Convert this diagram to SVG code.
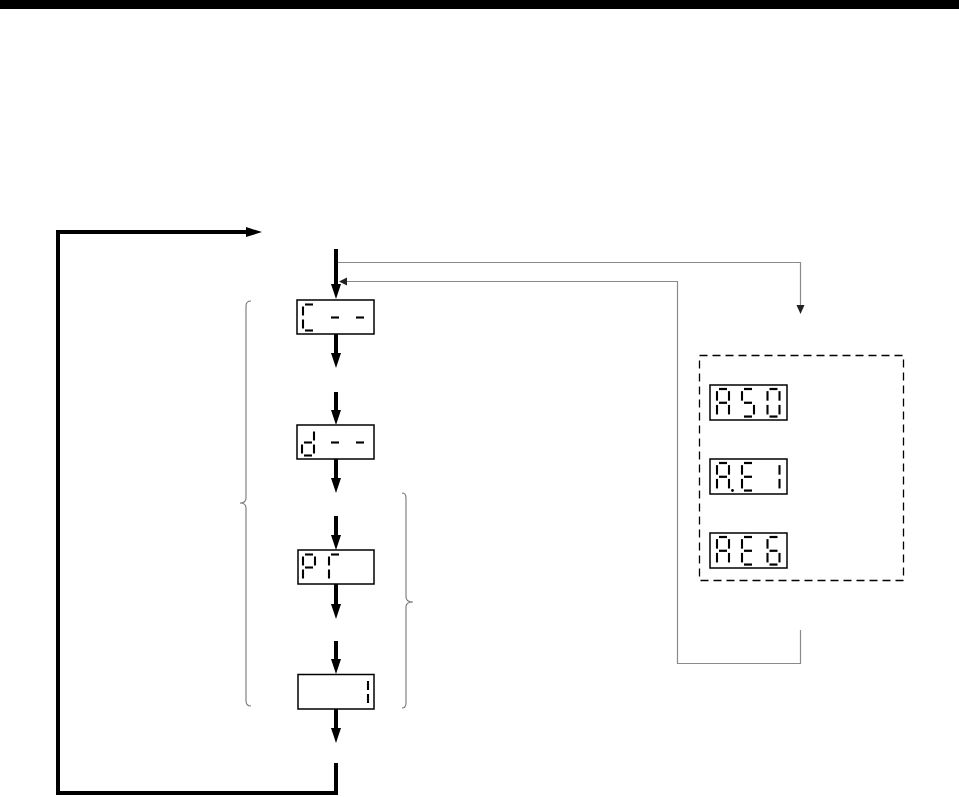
<svg xmlns="http://www.w3.org/2000/svg" xmlns:xlink="http://www.w3.org/1999/xlink" width="959" height="797" viewBox="0 0 959 797">
<style>
.box{fill:#fff;stroke:#000;stroke-width:1.5}
.seg{stroke:#000;stroke-width:2.1;fill:none}
.main{stroke:#000;stroke-width:4;fill:none}
.head{fill:#000}
.thin{stroke:#8a8a8a;stroke-width:1.2;fill:none}
.thead{fill:#222}
.brace{stroke:#777;stroke-width:1.1;fill:none}
.dash{stroke:#000;stroke-width:1.3;fill:none;stroke-dasharray:8 5}
</style>
<defs>
<line id="sa" class="seg" x1="2" y1="0" x2="10" y2="0"/>
<line id="sb" class="seg" x1="12" y1="2" x2="12" y2="11"/>
<line id="sc" class="seg" x1="12" y1="15" x2="12" y2="24"/>
<line id="sd" class="seg" x1="2" y1="26" x2="10" y2="26"/>
<line id="se" class="seg" x1="0" y1="15" x2="0" y2="24"/>
<line id="sf" class="seg" x1="0" y1="2" x2="0" y2="11"/>
<line id="sg" class="seg" x1="2" y1="13" x2="10" y2="13"/>
</defs>
<rect x="0" y="0" width="959" height="9" fill="#000"/>

<g id="connectors">
<path class="main" d="M336,249 V285"/><polygon class="head" points="331,284 341,284 336,299"/>
<path class="main" d="M336,334 V354"/><polygon class="head" points="331,353 341,353 336,368"/>
<path class="main" d="M336,392 V411"/><polygon class="head" points="331,410 341,410 336,425"/>
<path class="main" d="M336,459 V479"/><polygon class="head" points="331,478 341,478 336,493"/>
<path class="main" d="M336,516 V536"/><polygon class="head" points="331,535 341,535 336,550"/>
<path class="main" d="M336,584 V605"/><polygon class="head" points="331,604 341,604 336,619"/>
<path class="main" d="M336,641 V660"/><polygon class="head" points="331,659 341,659 336,674"/>
<path class="main" d="M336,709 V729"/><polygon class="head" points="331,728 341,728 336,743"/>
<path class="main" d="M336,763 V793 H58 V232 H248"/><polygon class="head" points="246,227 246,237 262,232"/>
<path class="thin" d="M338,262.5 H800.5 V306"/><polygon class="thead" points="796.5,305 804.5,305 800.5,314"/>
<path class="thin" d="M800.5,630 V663.5 H677.5 V281.5 H346"/><polygon class="thead" points="347,277.5 347,285.5 339,281.5"/>
<path class="brace" d="M251,301 Q246,301 246,306 V498 Q246,503 240,503 Q246,503 246,508 V701 Q246,706 251,706"/>
<path class="brace" d="M402,493 Q406,493 406,498 V597 Q406,602 413,602 Q406,602 406,607 V703 Q406,708 402,708"/>
<rect class="dash" x="699.5" y="355.5" width="204" height="225"/>
</g>

<g id="node-c">
<rect class="box" x="297" y="300" width="77" height="34"/>
<g transform="translate(303,304.5)"><use href="#sa"/><use href="#sf"/><use href="#se"/><use href="#sd"/></g>
<g transform="translate(329,304.5)"><use href="#sg"/></g>
<g transform="translate(354,304.5)"><use href="#sg"/></g>
</g>

<g id="node-d">
<rect class="box" x="297" y="425" width="77" height="34"/>
<g transform="translate(302,429.5)"><use href="#sb"/><use href="#sc"/><use href="#sd"/><use href="#se"/><use href="#sg"/></g>
<g transform="translate(329,429.5)"><use href="#sg"/></g>
<g transform="translate(354,429.5)"><use href="#sg"/></g>
</g>

<g id="node-p1">
<rect class="box" x="298" y="550" width="76" height="34"/>
<g transform="translate(303,554.5)"><use href="#sa"/><use href="#sb"/><use href="#sf"/><use href="#sg"/><use href="#se"/></g>
<g transform="translate(329,554.5)"><use href="#sa"/><use href="#sf"/><use href="#se"/></g>
</g>

<g id="node-1">
<rect class="box" x="298" y="674.5" width="76" height="34.5"/>
<g transform="translate(356,679)"><use href="#sb"/><use href="#sc"/></g>
</g>

<g id="node-a50">
<rect class="box" x="710" y="385" width="77" height="35"/>
<g transform="translate(717,389) scale(1,1.06)"><use href="#sa"/><use href="#sb"/><use href="#sc"/><use href="#se"/><use href="#sf"/><use href="#sg"/></g>
<g transform="translate(742,389) scale(1,1.06)"><use href="#sa"/><use href="#sf"/><use href="#sg"/><use href="#sc"/><use href="#sd"/></g>
<g transform="translate(767.5,389) scale(1,1.06)"><use href="#sa"/><use href="#sb"/><use href="#sc"/><use href="#sd"/><use href="#se"/><use href="#sf"/></g>
</g>

<g id="node-ae1">
<rect class="box" x="710" y="459" width="77" height="35"/>
<g transform="translate(717,463) scale(1,1.06)"><use href="#sa"/><use href="#sb"/><use href="#sc"/><use href="#se"/><use href="#sf"/><use href="#sg"/></g>
<circle cx="732.5" cy="490.5" r="1.4" fill="#000"/>
<g transform="translate(742,463) scale(1,1.06)"><use href="#sa"/><use href="#sf"/><use href="#sg"/><use href="#se"/><use href="#sd"/></g>
<g transform="translate(767.5,463) scale(1,1.06)"><use href="#sb"/><use href="#sc"/></g>
</g>

<g id="node-ae6">
<rect class="box" x="710" y="533" width="77" height="35"/>
<g transform="translate(717,537) scale(1,1.06)"><use href="#sa"/><use href="#sb"/><use href="#sc"/><use href="#se"/><use href="#sf"/><use href="#sg"/></g>
<g transform="translate(742,537) scale(1,1.06)"><use href="#sa"/><use href="#sf"/><use href="#sg"/><use href="#se"/><use href="#sd"/></g>
<g transform="translate(767.5,537) scale(1,1.06)"><use href="#sa"/><use href="#sf"/><use href="#sg"/><use href="#se"/><use href="#sc"/><use href="#sd"/></g>
</g>
</svg>
